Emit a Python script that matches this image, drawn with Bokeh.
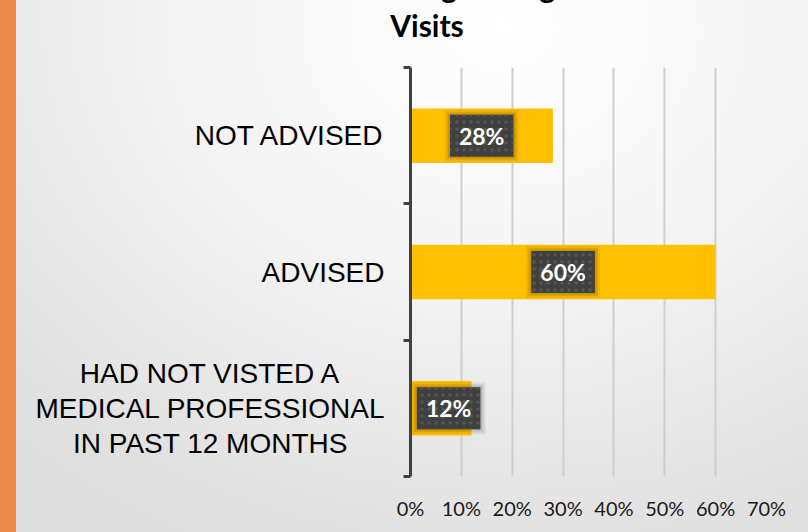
import numpy as np
from bokeh.plotting import figure
from bokeh.models import Range1d, FixedTicker, NumeralTickFormatter, Div, ColumnDataSource
from bokeh.layouts import row, column
from bokeh.core.properties import value
from bokeh.embed import file_html
from bokeh.resources import INLINE

# ---- data (top to bottom as shown) ----
categories = ["NOT ADVISED", "ADVISED", "HAD NOT VISTED A\nMEDICAL PROFESSIONAL\nIN PAST 12 MONTHS"]
values = [0.28, 0.60, 0.12]
x_ticks = [0.0, 0.1, 0.2, 0.3, 0.4, 0.5, 0.6, 0.7]
title_lines = ["Advised on Smoking During Medical", "Visits"]

n = len(categories)
ys = [n - i - 0.5 for i in range(n)]
vals = np.array(values)
label_x = np.maximum(vals / 2, 0.075)
labels = [f"{round(v * 100)}%" for v in values]

y_range = Range1d(0, n)
src = ColumnDataSource(dict(y=ys, v=values, lx=label_x, lab=labels))

# ---- category label panel (left) ----
is_multi = ["\n" in c for c in categories]
cat_src = ColumnDataSource(dict(
    y=ys, cat=categories, x=[1.0] * n,
    align=["center" if m else "right" for m in is_multi],
    xoff=[-180 if m else -6 for m in is_multi]))

pl = figure(width=374, height=484, output_backend="svg", toolbar_location=None,
            x_range=Range1d(0, 1), y_range=y_range, margin=0)
pl.min_border_left = 0
pl.min_border_right = 0
pl.min_border_top = 19
pl.min_border_bottom = 56
pl.axis.visible = False
pl.grid.visible = False
pl.border_fill_alpha = 0
pl.background_fill_alpha = 0
pl.outline_line_color = None
pl.text(x="x", y="y", text="cat", source=cat_src, x_offset="xoff", text_align="align",
        text_baseline="middle", text_font=value("Liberation Sans"), text_font_size="28px",
        text_color="black", text_line_height=1.12)

# ---- main chart ----
p = figure(width=418, height=484, output_backend="svg", toolbar_location=None,
           x_range=Range1d(0, 0.7), y_range=y_range, margin=0)
p.min_border_left = 20
p.min_border_right = 42
p.min_border_top = 19
p.min_border_bottom = 56
p.border_fill_alpha = 0
p.background_fill_alpha = 0
p.outline_line_color = None

p.hbar(y="y", left=0, right="v", height=0.4, source=src, fill_color="#FFC000", line_color=None)

# soft halo behind the data-label boxes
for w, h, a in [(74, 52, 0.06), (70, 48, 0.08), (67, 45, 0.10)]:
    p.rect(x="lx", y="y", width=w, height=h, width_units="screen", height_units="screen",
           source=src, fill_color="black", fill_alpha=a, line_color=None)
# labels
p.text(x="lx", y="y", text="lab", source=src, text_font=value("Lato"), text_font_style="bold",
       text_font_size="23px", text_color="white", text_align="center", text_baseline="middle",
       padding=(9, 7), background_fill_color="#404040", background_hatch_pattern="dot",
       background_hatch_color="#565656", background_hatch_scale=7)

# x axis
p.xaxis.ticker = FixedTicker(ticks=x_ticks)
p.xaxis.formatter = NumeralTickFormatter(format="0%")
p.xaxis.axis_line_color = None
p.xaxis.major_tick_line_color = None
p.xaxis.minor_tick_line_color = None
p.xaxis.major_label_text_font = "Lato"
p.xaxis.major_label_text_font_size = "20px"
p.xaxis.major_label_text_color = "#1a1a1a"
p.xaxis.major_label_standoff = 13

# y axis: line and category-boundary ticks only
p.yaxis.ticker = FixedTicker(ticks=[], minor_ticks=list(range(n + 1)))
p.yaxis.major_tick_line_color = None
p.yaxis.minor_tick_line_color = "#404040"
p.yaxis.minor_tick_line_width = 3
p.yaxis.minor_tick_out = 7
p.yaxis.minor_tick_in = 0
p.yaxis.axis_line_color = "#404040"
p.yaxis.axis_line_width = 3

p.xgrid.ticker = FixedTicker(ticks=x_ticks)
p.xgrid.grid_line_color = "#cfcfcf"
p.xgrid.grid_line_width = 2
p.ygrid.grid_line_color = None

title = Div(width=792, height=48, margin=0, styles={"overflow": "hidden"},
            text=('<div style="margin-top:-33px;margin-left:30px;width:762px;text-align:center;'
                  'font-family:Lato;font-weight:bold;font-size:30px;line-height:1.3;color:#000">'
                  + "<br>".join(title_lines) + "</div>"))

strip = Div(width=16, height=532, margin=0, styles={"background-color": "#EC8A4C"})

layout = row(strip, column(title, row(pl, p, margin=0), margin=0), margin=0,
             styles={"background": "radial-gradient(ellipse 90% 110% at 62% 5%, #ffffff 0%, #f3f3f3 45%, #dcdcdc 100%)"})

open("out.html", "w").write(file_html(layout, INLINE))
